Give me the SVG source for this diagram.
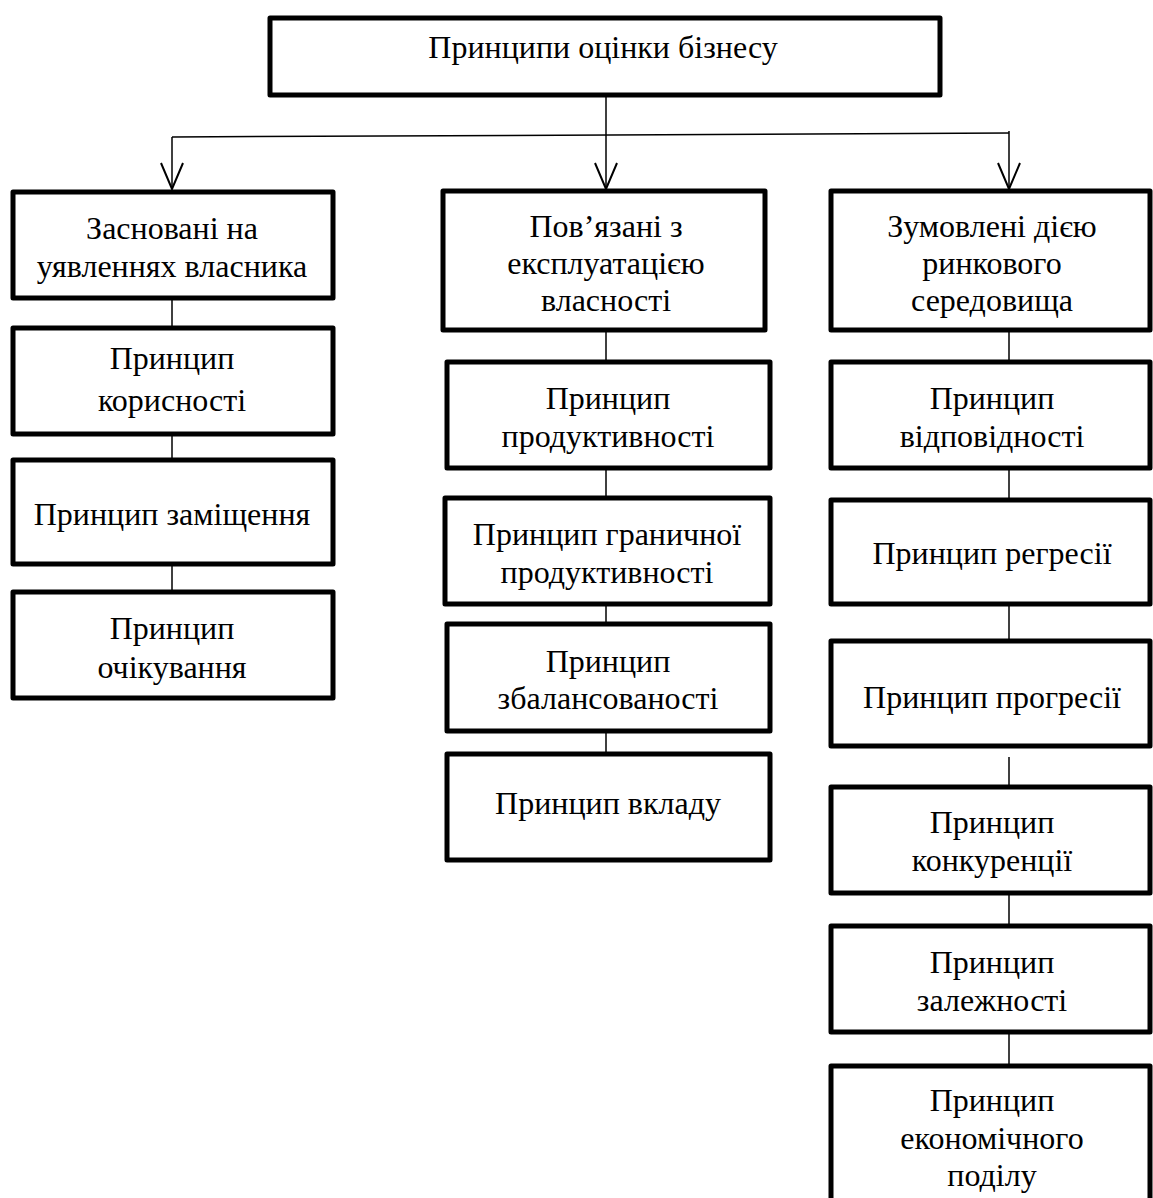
<svg xmlns="http://www.w3.org/2000/svg" width="1153" height="1198" viewBox="0 0 1153 1198">
<style>
.box{fill:#fff;stroke:#000;stroke-width:5;stroke-linejoin:round}
.t{font-family:"Liberation Serif","Times New Roman",serif;font-size:32px;fill:#000;text-anchor:middle}
.c{stroke:#000;stroke-width:1.5;fill:none}
</style>
<defs>
<marker id="ah" markerWidth="30" markerHeight="24" refX="28" refY="12" orient="auto" markerUnits="userSpaceOnUse" viewBox="0 0 30 24">
<path d="M2,1 L28,12 L2,23" fill="none" stroke="#000" stroke-width="2"/>
</marker>
</defs>
<rect width="1153" height="1198" fill="#fff"/>
<g id="connectors">
<line class="c" x1="606" y1="95" x2="606" y2="189" marker-end="url(#ah)"/>
<line class="c" x1="172" y1="137" x2="1009" y2="133"/>
<line class="c" x1="172" y1="137" x2="172" y2="189" marker-end="url(#ah)"/>
<line class="c" x1="1009" y1="131" x2="1009" y2="189" marker-end="url(#ah)"/>
<line class="c" x1="172" y1="298" x2="172" y2="328"/>
<line class="c" x1="172" y1="434" x2="172" y2="460"/>
<line class="c" x1="172" y1="564" x2="172" y2="592"/>
<line class="c" x1="606" y1="330" x2="606" y2="362"/>
<line class="c" x1="606" y1="468" x2="606" y2="498"/>
<line class="c" x1="606" y1="604" x2="606" y2="624"/>
<line class="c" x1="606" y1="731" x2="606" y2="754"/>
<line class="c" x1="1009" y1="330" x2="1009" y2="362"/>
<line class="c" x1="1009" y1="468" x2="1009" y2="500"/>
<line class="c" x1="1009" y1="604" x2="1009" y2="641"/>
<line class="c" x1="1009" y1="757" x2="1009" y2="787"/>
<line class="c" x1="1009" y1="893" x2="1009" y2="926"/>
<line class="c" x1="1009" y1="1032" x2="1009" y2="1066"/>
</g>
<g id="root"><rect class="box" x="270" y="18" width="670" height="77"/><text class="t" x="603" y="58">Принципи оцінки бізнесу</text></g>
<g id="L0"><rect class="box" x="13" y="192" width="320" height="106"/><text class="t" x="172" y="239">Засновані на</text><text class="t" x="172" y="277">уявленнях власника</text></g>
<g id="L1"><rect class="box" x="13" y="328" width="320" height="106"/><text class="t" x="172" y="369">Принцип</text><text class="t" x="172" y="411">корисності</text></g>
<g id="L2"><rect class="box" x="13" y="460" width="320" height="104"/><text class="t" x="172" y="525">Принцип заміщення</text></g>
<g id="L3"><rect class="box" x="13" y="592" width="320" height="106"/><text class="t" x="172" y="639">Принцип</text><text class="t" x="172" y="678">очікування</text></g>
<g id="M0"><rect class="box" x="443" y="191" width="322" height="139"/><text class="t" x="606" y="237">Пов’язані з</text><text class="t" x="606" y="274">експлуатацією</text><text class="t" x="606" y="311">власності</text></g>
<g id="M1"><rect class="box" x="447" y="362" width="323" height="106"/><text class="t" x="608" y="409">Принцип</text><text class="t" x="608" y="447">продуктивності</text></g>
<g id="M2"><rect class="box" x="445" y="498" width="325" height="106"/><text class="t" x="607" y="545">Принцип граничної</text><text class="t" x="607" y="583">продуктивності</text></g>
<g id="M3"><rect class="box" x="447" y="624" width="323" height="107"/><text class="t" x="608" y="672">Принцип</text><text class="t" x="608" y="709">збалансованості</text></g>
<g id="M4"><rect class="box" x="447" y="754" width="323" height="106"/><text class="t" x="608" y="814">Принцип вкладу</text></g>
<g id="R0"><rect class="box" x="831" y="191" width="319" height="139"/><text class="t" x="992" y="237">Зумовлені дією</text><text class="t" x="992" y="274">ринкового</text><text class="t" x="992" y="311">середовища</text></g>
<g id="R1"><rect class="box" x="831" y="362" width="319" height="106"/><text class="t" x="992" y="409">Принцип</text><text class="t" x="992" y="447">відповідності</text></g>
<g id="R2"><rect class="box" x="831" y="500" width="319" height="104"/><text class="t" x="992" y="564">Принцип регресії</text></g>
<g id="R3"><rect class="box" x="831" y="641" width="319" height="105"/><text class="t" x="992" y="708">Принцип прогресії</text></g>
<g id="R4"><rect class="box" x="831" y="787" width="319" height="106"/><text class="t" x="992" y="833">Принцип</text><text class="t" x="992" y="871">конкуренції</text></g>
<g id="R5"><rect class="box" x="831" y="926" width="319" height="106"/><text class="t" x="992" y="973">Принцип</text><text class="t" x="992" y="1011">залежності</text></g>
<g id="R6"><rect class="box" x="831" y="1066" width="319" height="150"/><text class="t" x="992" y="1111">Принцип</text><text class="t" x="992" y="1149">економічного</text><text class="t" x="992" y="1186">поділу</text></g>
</svg>
